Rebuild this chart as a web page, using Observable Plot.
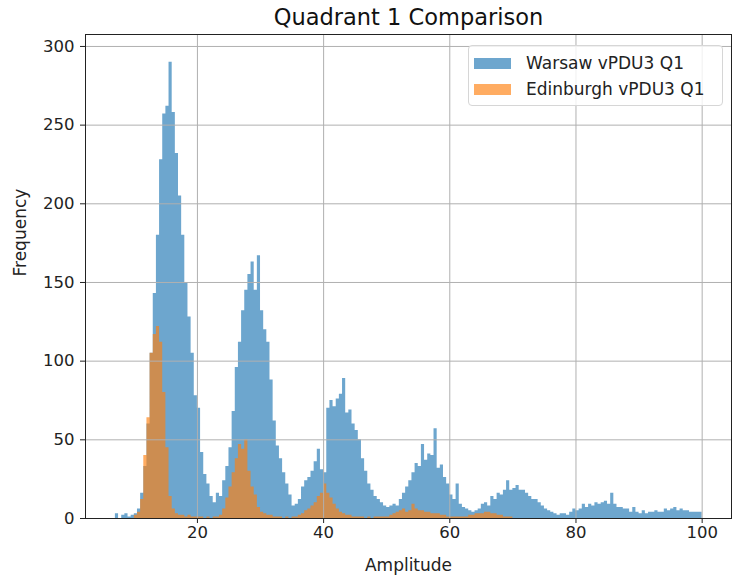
<!DOCTYPE html>
<html>
<head>
<meta charset="utf-8">
<script src="https://cdn.jsdelivr.net/npm/d3@7"></script>
<script src="https://cdn.jsdelivr.net/npm/@observablehq/plot@0.6"></script>
<style>
  body { margin: 0; background: #fff; font-family: "DejaVu Sans", sans-serif; }
  #wrap { position: relative; width: 734px; height: 584px; }
  #legend { position: absolute; left: 468px; top: 45px; width: 255px; height: 61px;
    box-sizing: border-box; border: 1px solid #d6d6d6; border-radius: 4px; background: rgba(255,255,255,0.8);
    font-family: "DejaVu Sans", sans-serif; font-size: 17px; color: #222; }
  .item { position: absolute; left: 5px; height: 22px; display: flex; align-items: center; }
  .sw { width: 37px; height: 11px; margin-right: 15px; }
</style>
</head>
<body>
<div id="wrap">
  <div id="chart"></div>
  <div id="legend"></div>
</div>
<script>
const binWidth = 0.5;
const seriesNames = ["Warsaw vPDU3 Q1", "Edinburgh vPDU3 Q1"];
const seriesColors = ["#1f77b4", "#ff7f0e"];
const xTicks = [20, 40, 60, 80, 100];
const yTicks = [0, 50, 100, 150, 200, 250, 300];

const warsawStart = 7.0;
const warsawCounts = [
  3, 0, 2, 3, 1, 2, 3, 6, 16,
  33, 60, 105, 143, 180, 228, 257, 262, 290, 258,
  232, 205, 180, 150, 128, 105, 78, 70, 42, 28,
  22, 14, 10, 16, 14, 24, 33, 45, 68, 96,
  112, 132, 145, 155, 163, 145, 167, 132, 120, 112,
  88, 62, 46, 38, 29, 22, 15, 8, 9, 12,
  20, 24, 26, 30, 36, 44, 31, 29, 70, 75,
  71, 76, 79, 89, 67, 69, 60, 56, 50, 38,
  30, 22, 18, 14, 12, 10, 8, 7, 8, 9,
  8, 12, 16, 20, 24, 29, 35, 33, 47, 37,
  41, 40, 57, 32, 34, 26, 22, 15, 12, 22,
  9, 7, 6, 5, 4, 5, 6, 9, 10, 8,
  14, 12, 16, 15, 18, 24, 18, 19, 21, 18,
  18, 16, 14, 12, 12, 10, 8, 6, 5, 4,
  3, 2, 3, 3, 2, 4, 6, 5, 6, 9,
  7, 9, 8, 10, 9, 10, 11, 9, 16, 9,
  7, 7, 6, 6, 4, 7, 4, 3, 5, 3,
  4, 4, 5, 4, 4, 6, 5, 6, 7, 5,
  6, 5, 5, 4, 4, 4, 4
];

const edinburghStart = 10.0;
const edinburghCounts = [
  2, 4, 12, 40, 64, 105, 117, 122, 112, 80,
  45, 14, 6, 3, 2, 2, 1, 2, 1, 1,
  1, 1, 0, 1, 0, 1, 1, 2, 6, 13,
  20, 29, 38, 47, 44, 50, 30, 20, 15, 7,
  4, 3, 2, 2, 1, 1, 1, 0, 1, 0,
  1, 1, 2, 3, 5, 6, 8, 10, 14, 16,
  22, 16, 13, 9, 6, 4, 3, 2, 2, 1,
  1, 1, 1, 0, 1, 0, 1, 1, 1, 1,
  1, 2, 3, 4, 5, 6, 4, 5, 9, 6,
  5, 5, 4, 4, 3, 3, 3, 2, 2, 1,
  1, 1, 1, 1, 1, 1, 2, 2, 3, 3,
  3, 4, 4, 3, 3, 2, 2, 1, 1, 1
];

function steps(start, counts) {
  const pts = counts.map((c, i) => ({x: start + i * binWidth, y: c}));
  pts.push({x: start + counts.length * binWidth, y: counts[counts.length - 1]});
  return pts;
}

const font = "DejaVu Sans, sans-serif";
const chart = Plot.plot({
  width: 734,
  height: 584,
  marginLeft: 85,
  marginRight: 3,
  marginTop: 34,
  marginBottom: 66,
  style: {fontFamily: font, background: "#fff", color: "#222"},
  x: {domain: [2.26, 104.65]},
  y: {domain: [0, 307.6]},
  marks: [
    Plot.areaY(steps(warsawStart, warsawCounts), {x: "x", y: "y", curve: "step-after", fill: seriesColors[0], fillOpacity: 0.65}),
    Plot.areaY(steps(edinburghStart, edinburghCounts), {x: "x", y: "y", curve: "step-after", fill: seriesColors[1], fillOpacity: 0.65}),
    Plot.gridX(xTicks, {stroke: "#b0b0b0", strokeOpacity: 1, strokeWidth: 1}),
    Plot.gridY(yTicks, {stroke: "#b0b0b0", strokeOpacity: 1, strokeWidth: 1}),
    Plot.axisX(xTicks, {tickSize: 5, tickPadding: 3, fontSize: 16.5, label: null, stroke: "#222", fill: "#222"}),
    Plot.axisY(yTicks, {tickSize: 5, tickPadding: 6, fontSize: 16.5, label: null, stroke: "#222", fill: "#222"}),
    Plot.frame({stroke: "#222", strokeWidth: 1}),
    Plot.text(["Quadrant 1 Comparison"], {frameAnchor: "top", lineAnchor: "middle", dy: -17, text: d => d, fontSize: 22.5, fill: "#111"}),
    Plot.text(["Amplitude"], {frameAnchor: "bottom", lineAnchor: "middle", dy: 47, text: d => d, fontSize: 17, fill: "#222"}),
    Plot.text(["Frequency"], {frameAnchor: "left", dx: -65, rotate: -90, text: d => d, fontSize: 17, fill: "#222"})
  ]
});
document.getElementById("chart").appendChild(chart);

const legend = document.getElementById("legend");
seriesNames.forEach((name, i) => {
  const item = document.createElement("div");
  item.className = "item";
  item.style.top = (i === 0 ? 6 : 32) + "px";
  const sw = document.createElement("div");
  sw.className = "sw";
  sw.style.background = seriesColors[i];
  sw.style.opacity = 0.65;
  const t = document.createElement("span");
  t.textContent = name;
  item.appendChild(sw);
  item.appendChild(t);
  legend.appendChild(item);
});
</script>
</body>
</html>
